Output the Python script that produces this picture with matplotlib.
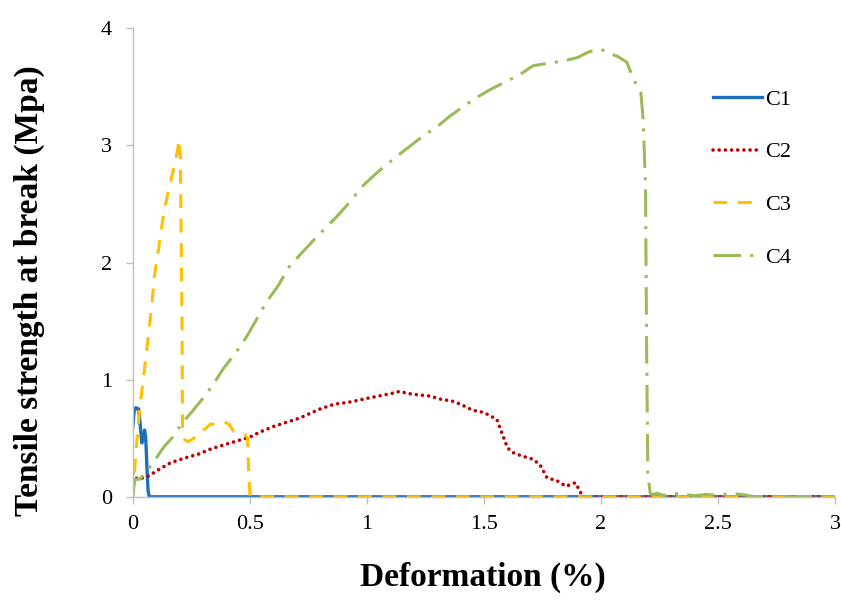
import matplotlib
matplotlib.use("Agg")
import matplotlib.pyplot as plt

plt.rcParams['font.family'] = ['Liberation Serif', 'DejaVu Serif']

# Tensile test curves: deformation (%) vs stress (MPa)
c1_x = [0, 0.005, 0.012, 0.025, 0.032, 0.038, 0.044, 0.05, 0.055, 0.06, 0.065, 0.07, 3.0]
c1_y = [0.60, 0.72, 0.76, 0.75, 0.60, 0.46, 0.50, 0.57, 0.50, 0.25, 0.05, 0.0, 0.0]

c2_x = [0, 0.01, 0.02, 0.04, 0.07, 0.10, 0.16, 0.22, 0.29, 0.32, 0.40, 0.50, 0.54,
        0.60, 0.71, 0.80, 0.86, 0.93, 1.00, 1.05, 1.10, 1.14, 1.18, 1.22, 1.27,
        1.32, 1.36, 1.40, 1.45, 1.50, 1.555, 1.57, 1.60, 1.62, 1.66, 1.71, 1.74,
        1.77, 1.81, 1.85, 1.89, 1.91, 1.92, 3.0]
c2_y = [0.20, 0.17, 0.15, 0.16, 0.18, 0.22, 0.29, 0.33, 0.37, 0.40, 0.45, 0.51, 0.55,
        0.60, 0.67, 0.75, 0.79, 0.81, 0.84, 0.86, 0.88, 0.90, 0.88, 0.87, 0.86,
        0.83, 0.82, 0.79, 0.74, 0.72, 0.66, 0.58, 0.42, 0.38, 0.35, 0.32, 0.27,
        0.16, 0.14, 0.09, 0.12, 0.05, 0.0, 0.0]

c3_x = [0, 0.01, 0.02, 0.03, 0.05, 0.073, 0.094, 0.11, 0.128, 0.15, 0.167, 0.18,
        0.19, 0.197, 0.203, 0.21, 0.212, 0.22, 0.235, 0.26, 0.286, 0.31, 0.33,
        0.36, 0.39, 0.41, 0.43, 0.457, 0.48, 0.49, 0.495, 0.50, 0.505, 3.0]
c3_y = [0.0, 0.30, 0.55, 0.77, 1.10, 1.49, 1.91, 2.12, 2.37, 2.60, 2.74, 2.85,
        2.95, 3.05, 2.90, 1.50, 0.57, 0.49, 0.47, 0.50, 0.56, 0.58, 0.62,
        0.62, 0.64, 0.62, 0.56, 0.55, 0.53, 0.50, 0.20, 0.02, 0.0, 0.0]

c4_x = [0, 0.005, 0.01, 0.03, 0.06, 0.10, 0.13, 0.17, 0.21, 0.25, 0.295, 0.34,
        0.385, 0.44, 0.487, 0.53, 0.57, 0.62, 0.67, 0.73, 0.786, 0.87, 0.92, 0.98,
        1.05, 1.13, 1.24, 1.30, 1.355, 1.41, 1.47, 1.53, 1.60, 1.65, 1.71, 1.77,
        1.84, 1.90, 1.95, 2.00, 2.03, 2.07, 2.11, 2.14, 2.17, 2.18, 2.19, 2.195,
        2.20, 2.21, 2.22, 2.24, 2.27, 2.30, 2.35, 2.40, 2.45, 2.50, 2.55, 2.60,
        2.63, 2.66, 3.0]
c4_y = [0.0, 0.10, 0.15, 0.15, 0.22, 0.33, 0.42, 0.51, 0.63, 0.72, 0.83, 0.95,
        1.09, 1.23, 1.37, 1.52, 1.66, 1.80, 1.97, 2.10, 2.22, 2.39, 2.50, 2.65,
        2.78, 2.91, 3.08, 3.16, 3.25, 3.33, 3.41, 3.48, 3.55, 3.60, 3.68, 3.70,
        3.72, 3.75, 3.80, 3.82, 3.79, 3.76, 3.71, 3.56, 3.45, 3.22, 2.65, 1.20,
        0.20, 0.03, 0.02, 0.03, 0.01, 0.03, 0.02, 0.01, 0.02, 0.01, 0.03, 0.02,
        0.01, 0.0, 0.0]

x_ticks = [0, 0.5, 1, 1.5, 2, 2.5, 3]
x_tick_labels = ["0", "0.5", "1", "1.5", "2", "2.5", "3"]
y_ticks = [0, 1, 2, 3, 4]

fig = plt.figure(figsize=(8.41, 6.0), dpi=100)
ax = fig.add_axes([0.158, 0.172, 0.835, 0.781])

lw = 2.2
ax.plot(c1_x, c1_y, color="#1F6FBF", lw=2.4, linestyle="-", label="C1",
        solid_joinstyle="round")
ax.plot(c2_x, c2_y, color="#C00000", lw=2.6, linestyle=(0, (0.01, 1.7)),
        dash_capstyle="round", label="C2")
ax.plot(c3_x, c3_y, color="#FFC000", lw=lw, linestyle=(0, (4.5, 3.5)),
        dash_capstyle="butt", label="C3")
ax.plot(c4_x, c4_y, color="#9BBB59", lw=lw, linestyle=(0, (9.0, 3.0, 1.0, 3.0)),
        dash_capstyle="butt", label="C4")

ax.set_xlim(0, 3)
ax.set_ylim(0, 4)
ax.set_xticks(x_ticks)
ax.set_xticklabels(x_tick_labels)
ax.set_yticks(y_ticks)

for side in ("top", "right"):
    ax.spines[side].set_visible(False)
for side in ("left", "bottom"):
    ax.spines[side].set_color("#BFBFBF")
    ax.spines[side].set_linewidth(1.0)
ax.tick_params(axis="both", direction="out", length=5, width=1.0,
               color="#BFBFBF", labelsize=16, labelcolor="black")
ax.tick_params(axis="y", pad=10)
ax.tick_params(axis="x", pad=8)

ax.set_xlabel("Deformation (%)", fontsize=24, fontweight="bold")
ax.set_ylabel("Tensile strength at break (Mpa)", fontsize=24, fontweight="bold")
ax.xaxis.set_label_coords(0.499, -0.138)
ax.yaxis.set_label_coords(-0.125, 0.44)

ax.legend(loc="upper left", bbox_to_anchor=(0.826, 0.87), frameon=False,
          fontsize=16, handlelength=2.2, handletextpad=0.15,
          labelspacing=1.45, borderpad=0, borderaxespad=0)

fig.savefig("out.png", dpi=100)
